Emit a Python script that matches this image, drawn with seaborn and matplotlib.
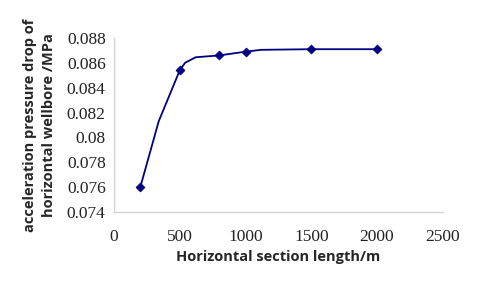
import matplotlib
matplotlib.use("Agg")
import matplotlib.pyplot as plt
import seaborn as sns
from matplotlib import font_manager

# measured points (with markers)
length_m = [200, 500, 800, 1000, 1500, 2000]
pressure_drop = [0.0760, 0.0854, 0.0866, 0.0869, 0.0871, 0.0871]

# points along the drawn (smoothed) curve
curve_x = [200, 340, 500, 540, 620, 800, 1000, 1120, 1500, 2000]
curve_y = [0.0760, 0.0813, 0.0854, 0.0860, 0.08645, 0.0866, 0.0869, 0.08705, 0.0871, 0.0871]

x_ticks = [0, 500, 1000, 1500, 2000, 2500]
y_ticks = [0.074, 0.076, 0.078, 0.08, 0.082, 0.084, 0.086, 0.088]
y_tick_labels = ["0.074", "0.076", "0.078", "0.08", "0.082", "0.084", "0.086", "0.088"]

sns.set_style("white")
color = "#000080"

serif_names = sorted({f.name for f in font_manager.fontManager.ttflist if "Serif" in f.name})
print(serif_names)
tick_font = "Liberation Serif" if "Liberation Serif" in serif_names else "DejaVu Serif"

fig = plt.figure(figsize=(4.8, 2.88), dpi=100)
ax = fig.add_axes([0.2375, 0.264, 0.685, 0.604])

sns.lineplot(x=curve_x, y=curve_y, ax=ax, color=color, linewidth=1.3, sort=False)
sns.scatterplot(x=length_m, y=pressure_drop, ax=ax, color=color, marker="D",
                s=22, edgecolor=color, zorder=3)

ax.set_xlim(0, 2500)
ax.set_ylim(0.074, 0.088)
ax.set_xticks(x_ticks)
ax.set_yticks(y_ticks)
ax.set_yticklabels(y_tick_labels)

for side in ["top", "right"]:
    ax.spines[side].set_visible(False)
for side in ["left", "bottom"]:
    ax.spines[side].set_color("#d4d4d4")
    ax.spines[side].set_linewidth(1.0)

ax.tick_params(axis="x", direction="in", length=4, color="#d4d4d4", pad=12,
               labelsize=12.5, labelcolor="#222222")
ax.tick_params(axis="y", length=0, pad=6, labelsize=12.5, labelcolor="#222222")

fig.canvas.draw()
for lab in ax.get_xticklabels() + ax.get_yticklabels():
    lab.set_fontproperties(font_manager.FontProperties(family=tick_font, size=12.5))

ax.set_xlabel("Horizontal section length/m", fontfamily="Open Sans",
              fontweight="bold", fontsize=10.5, labelpad=4)
ax.set_ylabel("acceleration pressure drop of\nhorizontal wellbore /MPa",
              fontfamily="Open Sans", fontweight="bold", fontsize=10.5,
              labelpad=8, linespacing=1.45)

fig.savefig("out.png", dpi=100)
